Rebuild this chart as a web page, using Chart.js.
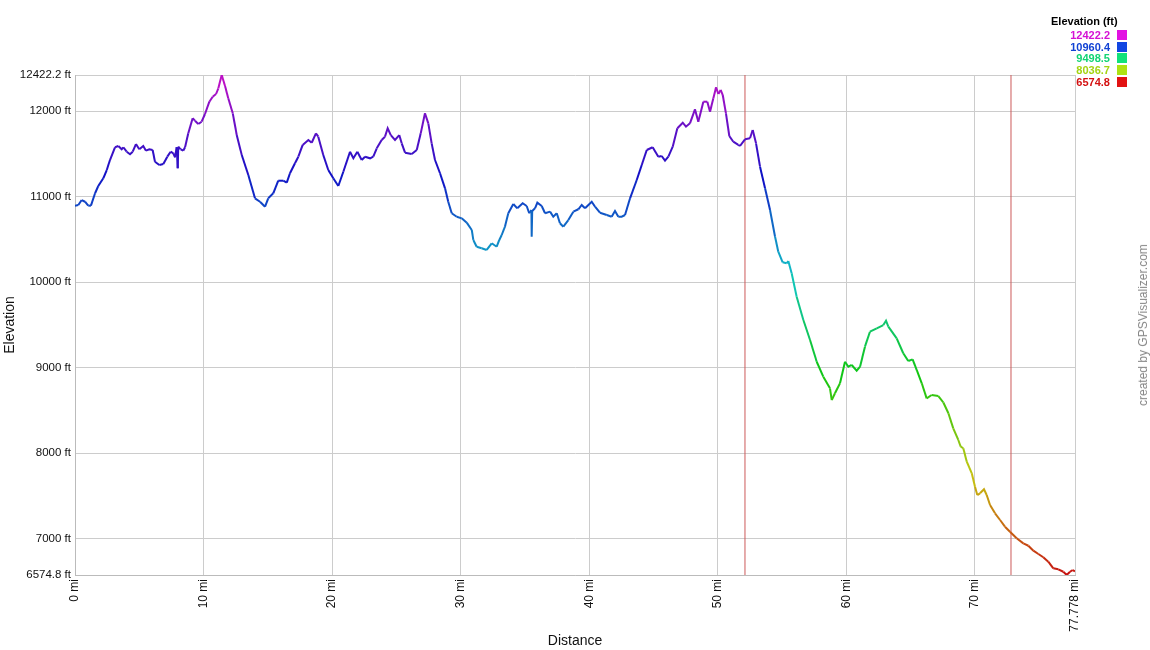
<!DOCTYPE html>
<html lang="en">
<head>
  <meta charset="UTF-8">
  <title>Elevation profile</title>
  <script src="https://cdn.jsdelivr.net/npm/chart.js"></script>
  <style>
    body {
      margin: 0;
      background: #fff;
      font-family: 'Liberation Sans', Arial, sans-serif;
    }
    #wrap {
      position: relative;
      width: 1150px;
      height: 650px;
    }
    #profile {
      position: absolute;
      left: 0;
      top: 0;
    }
    #legend {
      position: absolute;
      left: 1040px;
      top: 15px;
      font-size: 11px;
      font-weight: bold;
    }
    #legend .title {
      margin-left: 11px;
      line-height: 12px;
      color: #000;
      margin-bottom: 2px;
    }
    #legend .row {
      display: flex;
      align-items: center;
      height: 11.7px;
    }
    #legend .row span {
      width: 70px;
      text-align: right;
      margin-right: 7px;
    }
    #legend .row i {
      display: block;
      width: 10px;
      height: 10px;
    }
    #credit {
      position: absolute;
      left: 1143px;
      top: 325px;
      transform: translate(-50%, -50%) rotate(-90deg);
      white-space: nowrap;
      font-size: 12px;
      color: #888;
    }
  </style>
</head>
<body>
  <div id="wrap">
    <canvas id="profile" width="1150" height="650"></canvas>
    <div id="legend"><div class="title">Elevation (ft)</div></div>
    <div id="credit">created by GPSVisualizer.com</div>
  </div>
  <script>
    // distance along track (mi) and elevation (ft)
    const distance = [
      0, 0.26, 0.52, 0.78, 1.03, 1.24, 1.56, 1.81, 2.20, 2.47,
      2.72, 3.11, 3.37, 3.63, 3.76, 4.02, 4.28, 4.49, 4.74, 5.00,
      5.31, 5.52, 5.78, 6.04, 6.22, 6.56, 6.87, 7.18, 7.44, 7.65,
      7.78, 7.91, 7.99, 8.03, 8.22, 8.42, 8.56, 8.81, 9.15, 9.33,
      9.59, 9.85, 10.11, 10.45, 10.71, 10.97, 11.15, 11.41, 11.67, 11.92,
      12.27, 12.58, 12.97, 13.48, 14.00, 14.39, 14.78, 15.03, 15.42, 15.81,
      16.20, 16.47, 16.72, 17.11, 17.37, 17.71, 18.15, 18.41, 18.74, 18.92,
      19.31, 19.70, 20.09, 20.48, 20.87, 21.39, 21.65, 21.96, 22.30, 22.56,
      22.95, 23.20, 23.47, 23.85, 24.11, 24.32, 24.56, 24.89, 25.22, 25.41,
      25.67, 26.19, 26.58, 26.89, 27.22, 27.48, 27.74, 28.00, 28.39, 28.78,
      29.03, 29.30, 29.69, 30.08, 30.47, 30.86, 30.98, 31.24, 31.63, 32.02,
      32.41, 32.80, 33.00, 33.19, 33.44, 33.70, 34.09, 34.40, 34.82, 35.13,
      35.33, 35.50, 35.52, 35.56, 35.78, 35.96, 36.30, 36.56, 36.95, 37.20,
      37.47, 37.72, 37.98, 38.37, 38.76, 39.15, 39.41, 39.67, 40.19, 40.45,
      40.83, 41.36, 41.74, 42.00, 42.26, 42.52, 42.78, 43.17, 43.69, 44.08,
      44.47, 44.93, 45.37, 45.63, 45.89, 46.15, 46.49, 46.85, 47.27, 47.52,
      47.83, 48.22, 48.48, 48.87, 49.18, 49.39, 49.65, 49.86, 50.04, 50.22,
      50.38, 50.63, 50.89, 51.20, 51.59, 51.72, 52.11, 52.50, 52.71, 52.97,
      53.28, 53.67, 54.06, 54.45, 54.70, 55.04, 55.35, 55.48, 55.74, 56.13,
      56.65, 57.17, 57.69, 58.20, 58.72, 58.86, 59.11, 59.50, 59.89, 60.15,
      60.41, 60.80, 61.06, 61.44, 61.83, 62.36, 62.87, 63.08, 63.26, 63.91,
      64.42, 64.81, 65.15, 65.47, 65.86, 66.24, 66.63, 67.15, 67.54, 67.93,
      68.31, 68.70, 68.89, 69.09, 69.36, 69.75, 70.00, 70.18, 70.39, 70.70,
      70.91, 71.17, 71.56, 71.95, 72.33, 72.72, 73.24, 73.76, 74.15, 74.54,
      74.93, 75.31, 75.70, 76.09, 76.48, 76.87, 77.13, 77.39, 77.60, 77.778
    ];
    const elevation = [
      10894, 10902, 10960, 10940, 10894, 10894, 11039, 11124, 11214, 11311,
      11428, 11577, 11592, 11553, 11577, 11525, 11495, 11525, 11615, 11553,
      11592, 11537, 11553, 11545, 11408, 11370, 11381, 11467, 11525, 11507,
      11460, 11577, 11331, 11584, 11553, 11537, 11577, 11740, 11916, 11888,
      11849, 11876, 11966, 12110, 12168, 12200, 12267, 12422.2, 12294, 12150,
      11974, 11720, 11487, 11253, 10980, 10940, 10882, 10980, 11039, 11186,
      11186, 11163, 11273, 11390, 11467, 11604, 11662, 11630, 11740, 11701,
      11487, 11311, 11214, 11124, 11291, 11525, 11448, 11525, 11428, 11467,
      11448, 11467, 11565, 11662, 11701, 11799, 11720, 11662, 11720, 11623,
      11514, 11498, 11545, 11740, 11974, 11857, 11623, 11428, 11273, 11097,
      10940, 10805, 10765, 10746, 10695, 10610, 10493, 10414, 10396, 10376,
      10454, 10414, 10493, 10551, 10648, 10805, 10914, 10863, 10922, 10890,
      10805, 10843, 10531, 10832, 10863, 10929, 10890, 10805, 10824, 10765,
      10805, 10688, 10648, 10726, 10824, 10852, 10902, 10863, 10940, 10882,
      10812, 10785, 10765, 10832, 10765, 10765, 10785, 10980, 11194, 11370,
      11545, 11577, 11467, 11475, 11420, 11467, 11584, 11799, 11864, 11818,
      11857, 12021, 11876, 12110, 12110, 11993, 12150, 12278, 12200, 12247,
      12188, 11974, 11709, 11642, 11604, 11592, 11670, 11682, 11779, 11623,
      11350, 11097, 10843, 10531, 10356, 10232, 10220, 10247, 10103, 9829,
      9557, 9323, 9069, 8894, 8758, 8621, 8700, 8817, 9069, 9011,
      9031, 8964, 9011, 9245, 9420, 9460, 9498, 9549, 9479, 9343,
      9168, 9077, 9097, 8972, 8817, 8641, 8680, 8668, 8592, 8466,
      8290, 8154, 8075, 8057, 7900, 7764, 7607, 7510, 7530, 7577,
      7510, 7393, 7296, 7218, 7140, 7081, 7004, 6945, 6917, 6859,
      6820, 6782, 6730, 6653, 6641, 6613, 6574.8, 6613, 6633, 6618
    ];

    // waypoint markers (mi)
    const markers = [52.11, 72.80];

    const minFt = 6574.8;
    const maxFt = 12422.2;
    const maxMi = 77.778;

    const elevTicks = [6574.8, 7000, 8000, 9000, 10000, 11000, 12000, 12422.2];
    const distTicks = [0, 10, 20, 30, 40, 50, 60, 70, 77.778];
    const legendSteps = [12422.2, 10960.4, 9498.5, 8036.7, 6574.8];

    // red -> yellow -> green -> cyan -> blue -> magenta, low to high
    function elevColor(ft, light) {
      const t = Math.min(1, Math.max(0, (ft - minFt) / (maxFt - minFt)));
      return `hsl(${Math.round(t * 300)}, 85%, ${light || 42}%)`;
    }

    const legend = document.getElementById('legend');
    legendSteps.forEach(v => {
      const row = document.createElement('div');
      row.className = 'row';
      row.innerHTML = `<span style="color:${elevColor(v, 45)}">${v}</span><i style="background:${elevColor(v, 48)}"></i>`;
      legend.appendChild(row);
    });

    Chart.defaults.font.family = "'Liberation Sans', Arial, sans-serif";

    const markerSets = markers.map(m => ({
      data: [{ x: m, y: minFt }, { x: m, y: maxFt }],
      borderColor: '#cc5a5a',
      borderWidth: 1,
      pointRadius: 0
    }));

    new Chart(document.getElementById('profile'), {
      type: 'line',
      data: {
        datasets: [{
          data: distance.map((d, i) => ({ x: d, y: elevation[i] })),
          borderWidth: 2,
          pointRadius: 0,
          borderColor: '#3020c0',
          segment: {
            borderColor: ctx => elevColor((ctx.p0.parsed.y + ctx.p1.parsed.y) / 2)
          }
        }, ...markerSets]
      },
      options: {
        responsive: false,
        animation: false,
        layout: { padding: { top: 75, right: 75, left: 0, bottom: 0 } },
        plugins: {
          legend: { display: false },
          tooltip: { enabled: false }
        },
        scales: {
          x: {
            type: 'linear',
            min: 0,
            max: maxMi,
            afterBuildTicks: s => { s.ticks = distTicks.map(v => ({ value: v })); },
            afterFit: s => { s.height = 75; },
            grid: { color: '#cccccc', drawTicks: false },
            border: { color: '#bbbbbb' },
            ticks: {
              autoSkip: false,
              minRotation: 90,
              maxRotation: 90,
              padding: 4,
              color: '#111',
              font: { size: 12 },
              callback: v => v + ' mi'
            },
            title: { display: true, text: 'Distance', color: '#111', font: { size: 14 }, padding: 0 }
          },
          y: {
            min: minFt,
            max: maxFt,
            afterBuildTicks: s => { s.ticks = elevTicks.map(v => ({ value: v })); },
            afterFit: s => { s.width = 75; },
            grid: { color: '#cccccc', drawTicks: false },
            border: { color: '#bbbbbb' },
            ticks: {
              padding: 4,
              color: '#111',
              font: { size: 11.5 },
              callback: v => v + ' ft'
            },
            title: { display: true, text: 'Elevation', color: '#111', font: { size: 14 }, padding: { top: 2, bottom: 0 } }
          }
        }
      }
    });
  </script>
</body>
</html>
